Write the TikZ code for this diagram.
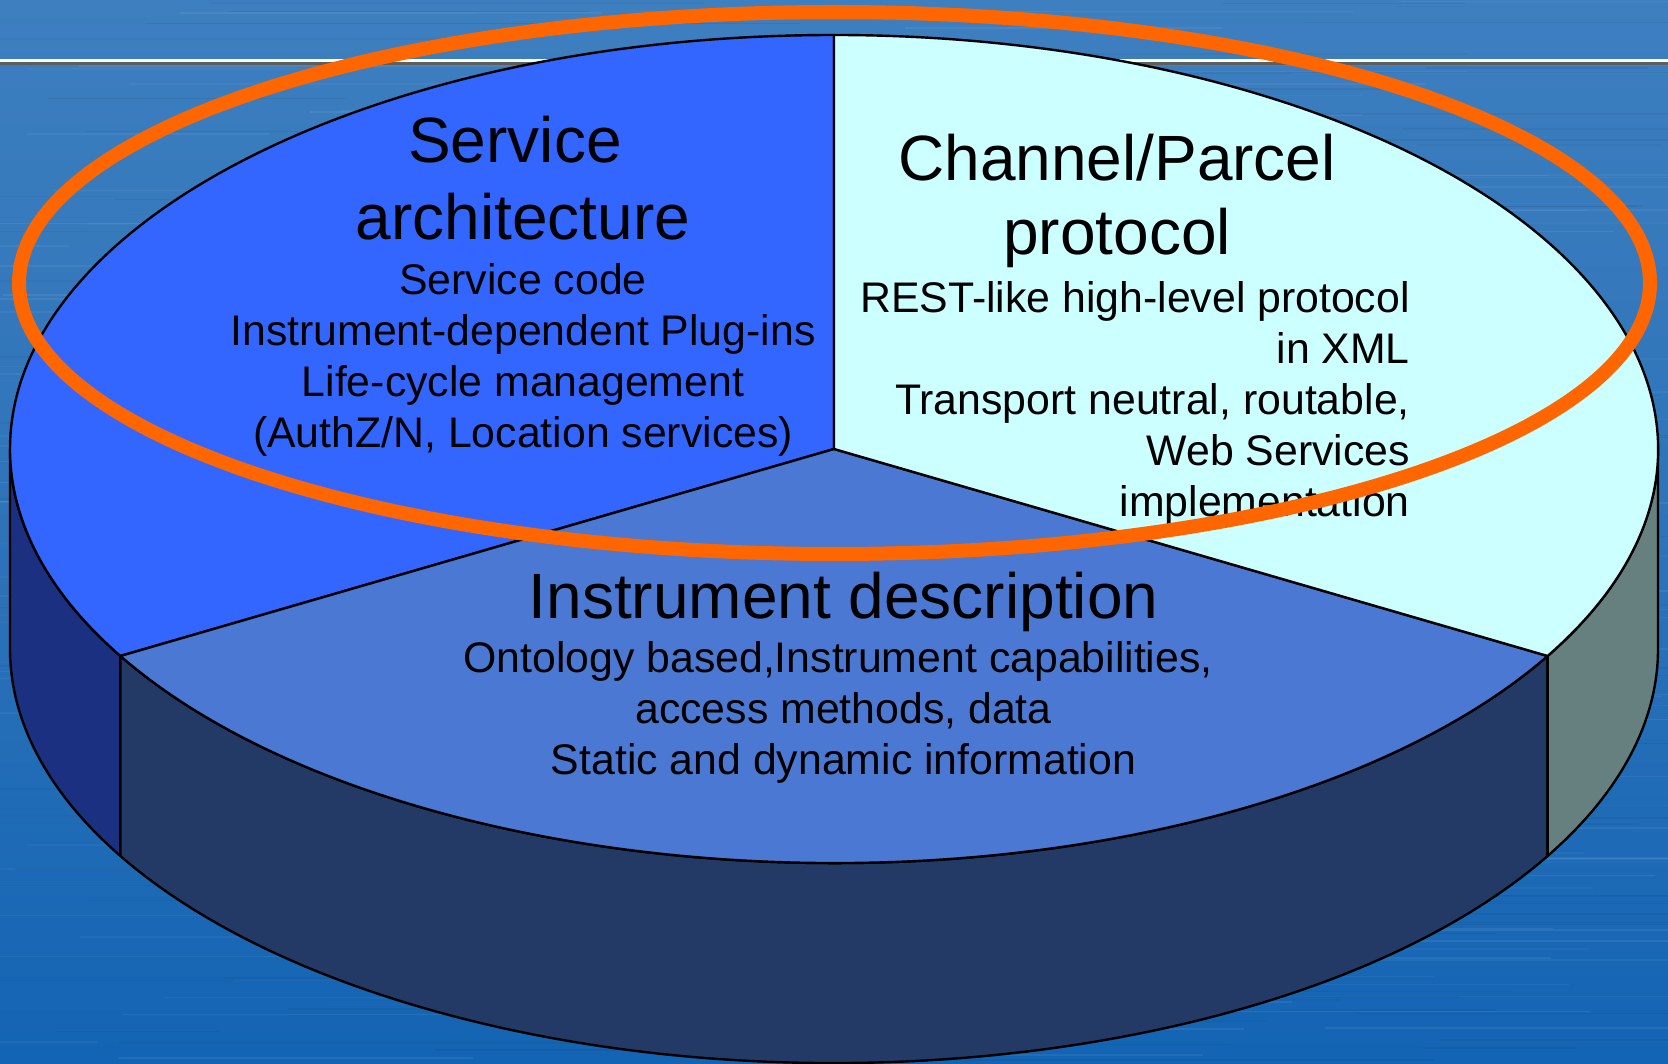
\documentclass[tikz,border=0pt]{standalone}
\usepackage{fontspec}
\setmainfont{Liberation Sans}
\usetikzlibrary{calc}

\definecolor{bgtop}{HTML}{3D7FBF}
\definecolor{bgmid}{HTML}{2E73B9}
\definecolor{bgbot}{HTML}{1364B4}
\definecolor{servicetop}{HTML}{3366FF}
\definecolor{serviceside}{HTML}{1B3080}
\definecolor{channeltop}{HTML}{CCFFFF}
\definecolor{channelside}{HTML}{668080}
\definecolor{instrtop}{HTML}{4A78D2}
\definecolor{instrside}{HTML}{243A66}
\definecolor{ringorange}{HTML}{FF6600}
\definecolor{rulegray}{HTML}{5E5E5E}

\tikzset{
  slice/.style={draw=black, line width=2.4pt, line join=round},
  rim/.style={x radius=824, y radius=414},
  bigtitle/.style={anchor=base, inner sep=0pt, font=\fontsize{64}{77}\selectfont},
  bodyc/.style={anchor=base, inner sep=0pt, font=\fontsize{42.8}{51}\selectfont},
  bodyr/.style={anchor=base east, inner sep=0pt, font=\fontsize{42.8}{51}\selectfont},
}

\begin{document}
\begin{tikzpicture}[x=1pt,y=1pt]
\useasboundingbox (0,0) rectangle (1668,1063);

% slide background with fine horizontal streaks
\shade[top color=bgtop, bottom color=bgbot, middle color=bgmid] (0,0) rectangle (1668,1063);
\pgfmathsetseed{7}
\foreach \i in {1,...,240}{
  \pgfmathsetmacro{\sy}{rnd*1063}
  \pgfmathsetmacro{\sx}{rnd*1668-200}
  \pgfmathsetmacro{\sl}{150+rnd*600}
  \pgfmathsetmacro{\so}{0.025+rnd*0.05}
  \fill[white, opacity=\so] (\sx,\sy) rectangle ++(\sl,1.5);
}
\foreach \i in {1,...,160}{
  \pgfmathsetmacro{\sy}{rnd*1063}
  \pgfmathsetmacro{\sx}{rnd*1668-200}
  \pgfmathsetmacro{\sl}{150+rnd*600}
  \pgfmathsetmacro{\so}{0.02+rnd*0.04}
  \fill[black, opacity=\so] (\sx,\sy) rectangle ++(\sl,1.5);
}

% title rule
\fill[white] (0,1001) rectangle (1668,1004);
\fill[rulegray] (0,998) rectangle (1668,1001);

% pie geometry
\coordinate (C) at (834,614);

% outer walls
\filldraw[slice, fill=serviceside]
  ($(C)+(180:824 and 414)$) arc[start angle=180, end angle=210, rim]
  -- ++(0,-200) arc[start angle=210, end angle=180, rim] -- cycle;
\filldraw[slice, fill=instrside]
  ($(C)+(210:824 and 414)$) arc[start angle=210, end angle=330, rim]
  -- ++(0,-200) arc[start angle=330, end angle=210, rim] -- cycle;
\filldraw[slice, fill=channelside]
  ($(C)+(330:824 and 414)$) arc[start angle=330, end angle=360, rim]
  -- ++(0,-200) arc[start angle=360, end angle=330, rim] -- cycle;

% top faces
\filldraw[slice, fill=servicetop]
  (C) -- ($(C)+(90:824 and 414)$) arc[start angle=90, end angle=210, rim] -- cycle;
\filldraw[slice, fill=instrtop]
  (C) -- ($(C)+(210:824 and 414)$) arc[start angle=210, end angle=330, rim] -- cycle;
\filldraw[slice, fill=channeltop]
  (C) -- ($(C)+(330:824 and 414)$) arc[start angle=330, end angle=450, rim] -- cycle;

% service architecture
\node[bigtitle] (svA) at (515,900) {Service};
\node[bigtitle] (svB) at (523,823) {architecture};
\node[bodyc] (sv1) at (523,768) {Service code};
\node[bodyc] (sv2) at (523,717) {Instrument-dependent Plug-ins};
\node[bodyc] (sv3) at (523,666) {Life-cycle management};
\node[bodyc] (sv4) at (523,615) {(AuthZ/N, Location services)};

% channel / parcel protocol
\node[bigtitle] (chA) at (1117,882) {Channel/Parcel};
\node[bigtitle] (chB) at (1117,808) {protocol};
\node[bodyr] (ch1) at (1410,750) {REST-like high-level protocol};
\node[bodyr] (ch2) at (1410,699) {in XML};
\node[bodyr] (ch3) at (1410,648) {Transport neutral, routable,};
\node[bodyr] (ch4) at (1410,597) {Web Services};
\node[bodyr] (ch5) at (1410,546) {implementation};

% instrument description
\node[bigtitle] (inA) at (843.5,444) {Instrument description};
\node[bodyc] (in1) at (838,390) {Ontology based,Instrument capabilities,};
\node[bodyc] (in2) at (843.5,339) {access methods, data};
\node[bodyc] (in3) at (843.5,288) {Static and dynamic information};

% highlight ring
\draw[ringorange, line width=14pt] (834.5,780) ellipse[x radius=815.5, y radius=271];
\end{tikzpicture}
\end{document}
